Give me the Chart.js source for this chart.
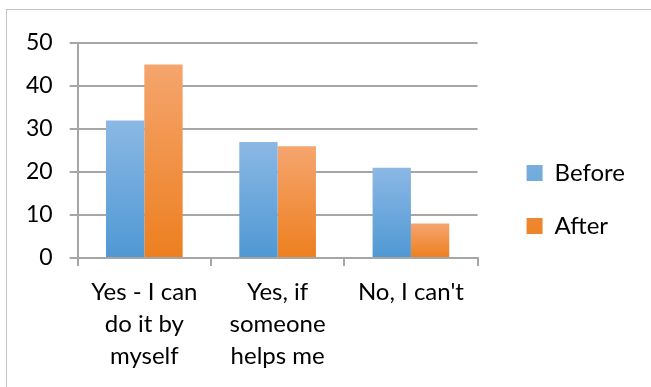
<!DOCTYPE html>
<html>
<head>
<meta charset="utf-8">
<script src="https://cdn.jsdelivr.net/npm/chart.js@4.4.1/dist/chart.umd.min.js"></script>
<style>
  html, body { margin: 0; padding: 0; background: #fff; }
  #wrap { position: relative; width: 651px; height: 387px; overflow: hidden; }
  #frame { position: absolute; left: 6px; top: 9px; width: 700px; height: 400px; border: 1px solid #c4c4c4; }
  #chart { position: absolute; left: 0; top: 0; }
</style>
</head>
<body>
<div id="wrap">
  <div id="frame"></div>
  <canvas id="chart" width="651" height="387"></canvas>
</div>
<script>
var categories = [["Yes - I can", "do it by", "myself"], ["Yes, if", "someone", "helps me"], "No, I can't"];
var beforeValues = [32, 27, 21];
var afterValues = [45, 26, 8];
var yTicks = [0, 10, 20, 30, 40, 50];

var fontName = "Lato, 'Open Sans', sans-serif";

// vertical gradient per bar, light at top, dark at the base
function barGradient(topColor, bottomColor, fallback){
  return function(context){
    var chart = context.chart;
    if(!chart.chartArea || context.dataIndex === undefined){
      return fallback;
    }
    var y = chart.scales.y;
    var top = y.getPixelForValue(context.raw);
    var base = y.getPixelForValue(0);
    if(!isFinite(top) || top === base){
      return fallback;
    }
    var g = chart.ctx.createLinearGradient(0, top, 0, base);
    g.addColorStop(0, topColor);
    g.addColorStop(1, bottomColor);
    return g;
  };
}

var ctx = document.getElementById("chart").getContext("2d");
var chart = new Chart(ctx, {
  type: 'bar',
  data: {
    labels: categories,
    datasets: [
      {label: 'Before', data: beforeValues, backgroundColor: barGradient('#8bb8e4', '#4f98d4', '#6aa9dd')},
      {label: 'After', data: afterValues, backgroundColor: barGradient('#f5a56e', '#ed7f1f', '#f39244')}
    ]
  },
  options: {
    responsive: false,
    animation: false,
    events: [],
    categoryPercentage: 0.575,
    barPercentage: 1.0,
    layout: {padding: {left: 9, top: 43, right: 16, bottom: 5}},
    plugins: {
      tooltip: {enabled: false},
      legend: {
        position: 'right',
        align: 'start',
        maxWidth: 220,
        title: {display: true, text: '', font: {size: 10, lineHeight: 1.2}, padding: {top: 77, bottom: 0}},
        labels: {
          boxWidth: 16,
          boxHeight: 16,
          padding: 29,
          color: '#000',
          font: {family: fontName, size: 24}
        }
      }
    },
    scales: {
      x: {
        grid: {display: true, drawOnChartArea: false, drawTicks: true, tickLength: 8, color: '#a6a6a6', lineWidth: 2},
        border: {display: true, color: '#a6a6a6', width: 2},
        ticks: {color: '#000', padding: 10, maxRotation: 0, autoSkip: false, font: {family: fontName, size: 24, lineHeight: 1.333}}
      },
      y: {
        min: 0,
        max: 50,
        afterBuildTicks: function(scale){
          scale.ticks = yTicks.map(function(v){ return {value: v}; });
        },
        grid: {color: '#a6a6a6', lineWidth: 2, tickLength: 8},
        border: {display: true, color: '#a6a6a6', width: 2},
        ticks: {color: '#000', padding: 17, font: {family: fontName, size: 23}}
      },
      gap: {
        type: 'linear',
        position: 'right',
        display: true,
        grid: {display: false},
        border: {display: false},
        ticks: {display: false},
        afterFit: function(scale){ scale.width = 20; }
      }
    }
  }
});
</script>
</body>
</html>
